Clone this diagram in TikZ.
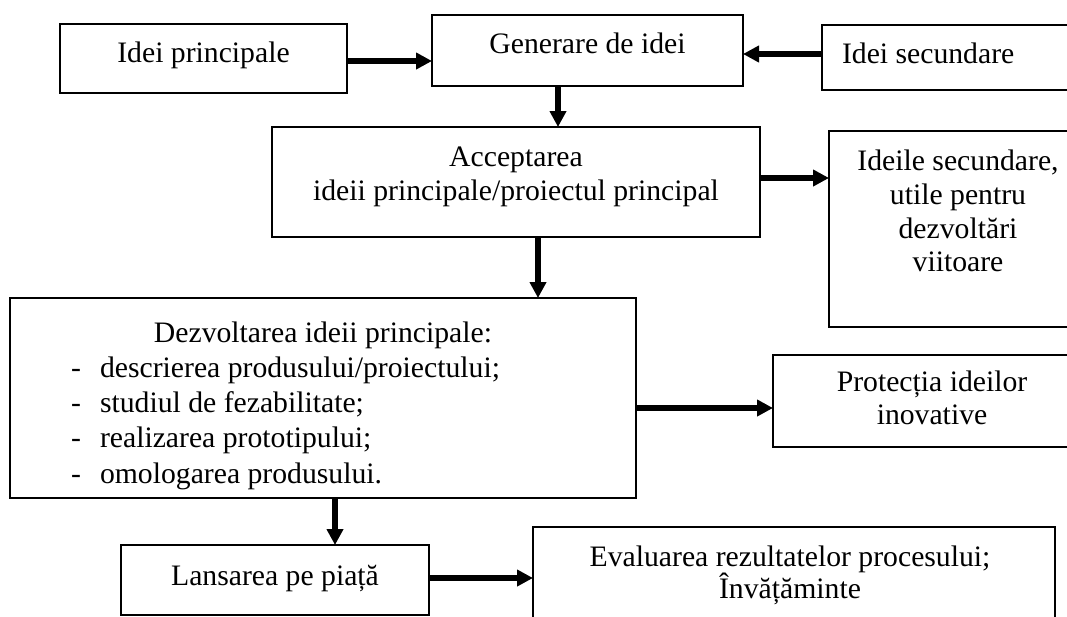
\documentclass[tikz,border=0pt]{standalone}
\usepackage{fontspec}
\setmainfont{Liberation Serif}
\usetikzlibrary{arrows.meta}
\begin{document}
\begin{tikzpicture}[x=1pt,y=-1pt,
  box/.style={draw=black, line width=1.6pt, rectangle, inner sep=0pt, outer sep=0pt, anchor=north west},
  txt/.style={inner sep=0pt, outer sep=0pt, anchor=base, font=\fontsize{29.7}{35}\selectfont},
  txtl/.style={txt, anchor=base west},
  flow/.style={line width=6pt, -{Triangle[length=16pt,width=16pt]}}]
\useasboundingbox (0,0) rectangle (1067,616);
\clip (0,0) rectangle (1067,616);

% boxes
\node[box, minimum width=287pt, minimum height=69pt]  (ip)     at (60,24)   {};
\node[box, minimum width=311pt, minimum height=71pt, line width=2.2pt] (gen) at (432,15) {};
\node[box, minimum width=300pt, minimum height=65pt]  (isec)   at (822,25)  {};
\node[box, minimum width=488pt, minimum height=110pt] (acc)    at (272,127) {};
\node[box, minimum width=300pt, minimum height=196pt] (ideile) at (829,131) {};
\node[box, minimum width=626pt, minimum height=200pt] (dez)    at (10,298)  {};
\node[box, minimum width=350pt, minimum height=92pt]  (prot)   at (773,355) {};
\node[box, minimum width=308pt, minimum height=70pt]  (lans)   at (121,545) {};
\node[box, minimum width=522pt, minimum height=120pt] (eval)   at (533,527) {};

% texts
\node[txt]  (ipT)   at (203.5,62) {Idei principale};
\node[txt]  (genT)  at (587.5,53) {Generare de idei};
\node[txtl] (isecT) at (842,63)   {Idei secundare};

\node[txt] (accA) at (516,166) {Acceptarea};
\node[txt] (accB) at (516,200) {ideii principale/proiectul principal};

\node[txt] (idA) at (958,170) {Ideile secundare,};
\node[txt] (idB) at (958,204) {utile pentru};
\node[txt] (idC) at (958,238) {dezvoltări};
\node[txt] (idD) at (958,271) {viitoare};

\node[txt]  (dezT) at (323,342) {Dezvoltarea ideii principale:};
\node[txt]  (dA)   at (76,377)  {-};
\node[txtl] (dAt)  at (100,377) {descrierea produsului/proiectului;};
\node[txt]  (dB)   at (76,412)  {-};
\node[txtl] (dBt)  at (100,412) {studiul de fezabilitate;};
\node[txt]  (dC)   at (76,447)  {-};
\node[txtl] (dCt)  at (100,447) {realizarea prototipului;};
\node[txt]  (dD)   at (76,483)  {-};
\node[txtl] (dDt)  at (100,483) {omologarea produsului.};

\node[txt] (prA) at (932,391) {Protecția ideilor};
\node[txt] (prB) at (932,424) {inovative};

\node[txt] (lansT) at (275,585) {Lansarea pe piață};

\node[txt] (evA) at (790,566) {Evaluarea rezultatelor procesului;};
\node[txt] (evB) at (790,598) {Învățăminte};

% connectors
\draw[flow] (ip.east |- 0,61)      -- (gen.west |- 0,61);
\draw[flow] (isec.west |- 0,54)    -- (gen.east |- 0,54);
\draw[flow] (558,0 |- gen.south)   -- (558,0 |- acc.north);
\draw[flow] (acc.east |- 0,178)    -- (ideile.west |- 0,178);
\draw[flow] (538,0 |- acc.south)   -- (538,0 |- dez.north);
\draw[flow] (dez.east |- 0,408)    -- (prot.west |- 0,408);
\draw[flow] (335,0 |- dez.south)   -- (335,0 |- lans.north);
\draw[flow] (lans.east |- 0,578)   -- (eval.west |- 0,578);
\end{tikzpicture}
\end{document}
